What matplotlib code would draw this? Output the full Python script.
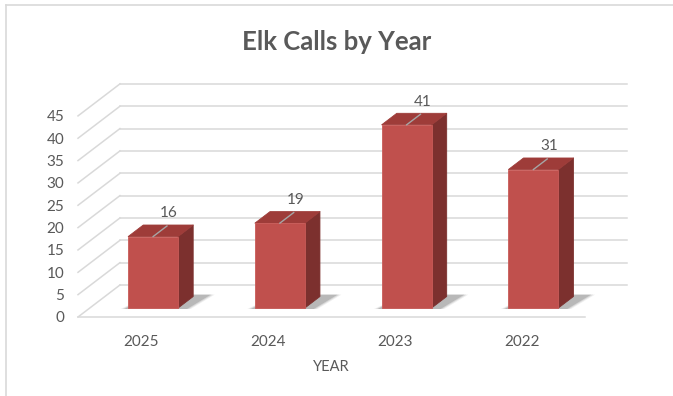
import matplotlib.pyplot as plt
from matplotlib.patches import Polygon
from matplotlib.lines import Line2D

plt.rcParams['font.family'] = ['Lato', 'DejaVu Sans']

years = ['2025', '2024', '2023', '2022']
calls = [16, 19, 41, 31]
yticks = [0, 5, 10, 15, 20, 25, 30, 35, 40, 45]

txt = '#595959'
grid = '#d9d9d9'
front_col = '#c0504d'
side_col = '#7c302e'
top_col = '#9e3c39'

# depth of the 3d box in data units (x in categories, y in calls)
DX = 0.331
DY = 7.16
d0, d1 = 0.28, 0.64   # front / back of each column
w = 0.197             # half width of a column


def proj(x, v, d):
    return (x + d * DX, v + d * DY)


fig = plt.figure(figsize=(6.73, 3.96), dpi=100)
ax = fig.add_axes([78 / 673, 79 / 396, 507 / 673, 201.1 / 396])
ax.set_xlim(-0.5, 3.5)
ax.set_ylim(0, 45)
for s in ax.spines.values():
    s.set_visible(False)

# back wall + left wall gridlines
for v in yticks:
    x0, y0 = proj(-0.5, v, 1)
    x1, y1 = proj(3.5, v, 1)
    ax.plot([x0, x1], [y0, y1], color=grid, lw=1.1, clip_on=False, zorder=1)
    fx, fy = proj(-0.5, v, 0)
    ax.plot([fx, x0], [fy, y0], color=grid, lw=1.1, clip_on=False, zorder=1)
# front floor edge
ax.plot([-0.5, 3.5], [0, 0], color=grid, lw=1.1, clip_on=False, zorder=1)

for i, val in enumerate(calls):
    # soft floor shadow
    for k, a in enumerate([0.08, 0.12, 0.18]):
        e = 0.05 - k * 0.015
        shadow = [proj(i - w - e, 0, d0 - 0.03), proj(i + w + 0.06 + e, 0, d0 - 0.03),
                  proj(i + w + 0.1 + e, 0, d1 + 0.06), proj(i - w + 0.04, 0, d1 + 0.06)]
        ax.add_patch(Polygon(shadow, closed=True, facecolor='#303030', alpha=a,
                             edgecolor='none', clip_on=False, zorder=2))

    side = [proj(i + w, 0, d0), proj(i + w, 0, d1), proj(i + w, val, d1), proj(i + w, val, d0)]
    top = [proj(i - w, val, d0), proj(i + w, val, d0), proj(i + w, val, d1), proj(i - w, val, d1)]
    front = [proj(i - w, 0, d0), proj(i + w, 0, d0), proj(i + w, val, d0), proj(i - w, val, d0)]
    ax.add_patch(Polygon(side, closed=True, facecolor=side_col, edgecolor=side_col,
                         lw=0.6, joinstyle='round', clip_on=False, zorder=3))
    ax.add_patch(Polygon(top, closed=True, facecolor=top_col, edgecolor=top_col,
                         lw=0.6, joinstyle='round', clip_on=False, zorder=3))
    ax.add_patch(Polygon(front, closed=True, facecolor=front_col, edgecolor='#c95b58',
                         lw=0.6, joinstyle='round', clip_on=False, zorder=4))

    # leader line and value label
    lx0, ly0 = proj(i, val, d0)
    lx1, ly1 = proj(i, val, d0 + 0.33)
    ax.plot([lx0, lx1], [ly0, ly1], color='#a6a6a6', lw=1.0, clip_on=False, zorder=5)
    ax.annotate(str(val), (lx1, ly1), xytext=(1.5, 9), textcoords='offset points',
                ha='center', va='center', fontsize=11, color=txt, zorder=6,
                annotation_clip=False)

ax.set_yticks(yticks)
ax.set_xticks(range(len(years)))
ax.set_xticklabels(years)
ax.tick_params(axis='both', length=0, labelsize=11, labelcolor=txt)
ax.tick_params(axis='y', pad=10)
ax.tick_params(axis='x', pad=13)
ax.set_xlabel('YEAR', fontsize=10.5, color=txt, labelpad=8)

fig.text(0.5, 1 - 42 / 396, 'Elk Calls by Year', ha='center', va='center',
         fontsize=18.5, fontweight='bold', color=txt)

# chart area border (top and left edges)
fig.add_artist(Line2D([6 / 673, 6 / 673], [0, 1 - 5 / 396], color=grid, lw=1.2))
fig.add_artist(Line2D([6 / 673, 1], [1 - 5 / 396, 1 - 5 / 396], color=grid, lw=1.2))

fig.savefig('out.png', dpi=100)
